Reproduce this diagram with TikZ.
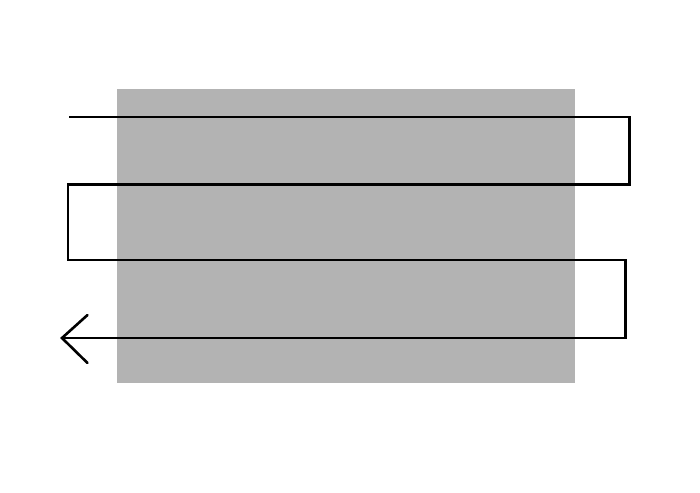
\documentclass[tikz,border=0pt]{standalone}
\definecolor{panelgray}{HTML}{B3B3B3}
\tikzset{
  panel/.style={fill=panelgray, draw=none},
  zigzag/.style={draw=black, line width=2.6pt, line join=miter},
  barb/.style={draw=black, line width=2.6pt, line cap=round}
}
\begin{document}
\begin{tikzpicture}[x=1pt, y=-1pt]
  \useasboundingbox (0,0) rectangle (700,492);
  \fill[white] (0,0) rectangle (700,492);
  \path[panel] (116.5,89.5) rectangle (575,383);
  \coordinate (s) at (69,117);
  \coordinate (e) at (62,338);
  \draw[zigzag] (s) -- (629.5,117) -- (629.5,184.5) -- (68,184.5) -- (68,260)
     -- (625.5,260) -- (625.5,338) -- (e);
  \coordinate (b1) at (87.5,315);
  \coordinate (b2) at (87.5,363);
  \draw[barb] (b1) -- (e) -- (b2);
\end{tikzpicture}
\end{document}
